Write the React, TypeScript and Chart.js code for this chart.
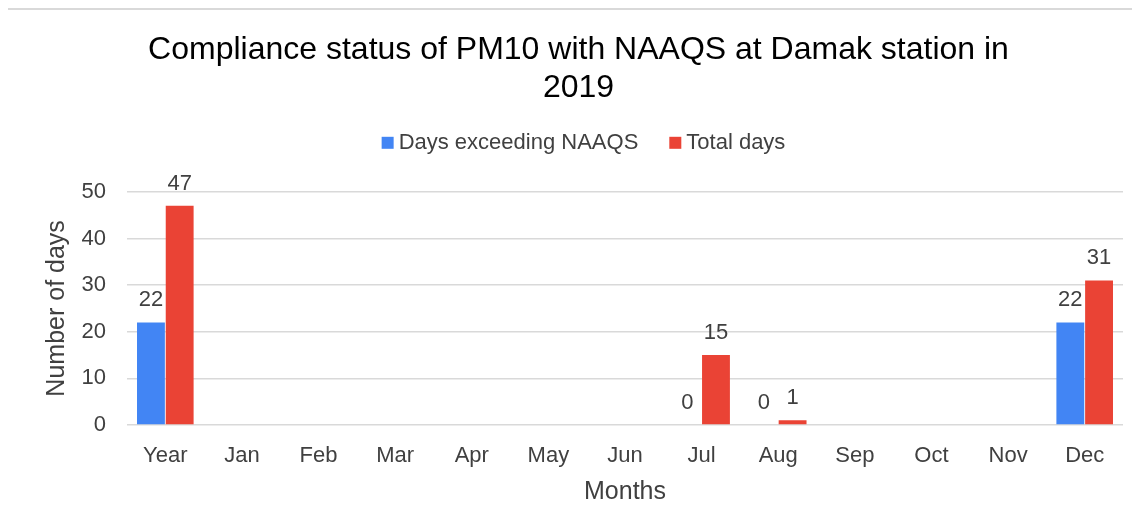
import React, { useEffect, useRef } from "react";
import { Chart, registerables } from "chart.js";

Chart.register(...registerables);

const categories = ["Year", "Jan", "Feb", "Mar", "Apr", "May", "Jun", "Jul", "Aug", "Sep", "Oct", "Nov", "Dec"];
const daysExceeding: (number | null)[] = [22, null, null, null, null, null, null, 0, 0, null, null, null, 22];
const totalDays: (number | null)[] = [47, null, null, null, null, null, null, 15, 1, null, null, null, 31];
const yTicks = [0, 10, 20, 30, 40, 50];
const titleLines = ["Compliance status of PM10 with NAAQS at Damak station in", "2019"];
const seriesColors = ["#4285F4", "#EA4335"];

const FONT = "'Liberation Sans', Arial, sans-serif";
const TEXT = "#404040";
const LEGEND_FONT = 22;
const LEGEND_BOX = 12;
const LEGEND_GAP = 5;
const LEGEND_SHIFT = 8;

const valueLabels = {
  id: "valueLabels",
  afterDatasetsDraw(chart: any) {
    const ctx = chart.ctx;
    ctx.save();
    ctx.font = `22px ${FONT}`;
    ctx.fillStyle = TEXT;
    ctx.textAlign = "center";
    ctx.textBaseline = "alphabetic";
    chart.data.datasets.forEach((ds: any, i: number) => {
      const meta = chart.getDatasetMeta(i);
      meta.data.forEach((el: any, j: number) => {
        const v = ds.data[j];
        if (v === null || v === undefined) return;
        ctx.fillText(String(v), el.x, el.y - 16);
      });
    });
    ctx.restore();
  },
};

// Extra space below the legend, and legend items drawn with a tighter box/text gap
const legendTweaks = {
  id: "legendTweaks",
  beforeInit(chart: any) {
    const legend = chart.legend;
    if (!legend) return;
    const origFit = legend.fit;
    legend.fit = function () {
      origFit.bind(legend)();
      this.height += 27;
    };
  },
  afterDraw(chart: any) {
    const legend = chart.legend;
    if (!legend || !legend.legendHitBoxes) return;
    const ctx = chart.ctx;
    ctx.save();
    ctx.font = `${LEGEND_FONT}px ${FONT}`;
    ctx.textBaseline = "middle";
    ctx.textAlign = "left";
    legend.legendItems.forEach((item: any, i: number) => {
      const hb = legend.legendHitBoxes[i];
      if (!hb) return;
      const cy = hb.top + hb.height / 2 - 1;
      const x = hb.left + LEGEND_SHIFT;
      ctx.fillStyle = seriesColors[item.datasetIndex];
      ctx.fillRect(x, cy - LEGEND_BOX / 2, LEGEND_BOX, LEGEND_BOX);
      ctx.fillStyle = TEXT;
      ctx.fillText(item.text, x + LEGEND_BOX + LEGEND_GAP, cy);
    });
    ctx.restore();
  },
};

export default function App() {
  const ref = useRef<HTMLCanvasElement | null>(null);
  useEffect(() => {
    if (!ref.current) return;
    const chart = new Chart(ref.current, {
      type: "bar",
      data: {
        labels: categories,
        datasets: [
          {
            label: "Days exceeding NAAQS",
            data: daysExceeding,
            backgroundColor: seriesColors[0],
            categoryPercentage: 0.75,
            barPercentage: 0.97,
          },
          {
            label: "Total days",
            data: totalDays,
            backgroundColor: seriesColors[1],
            categoryPercentage: 0.75,
            barPercentage: 0.97,
          },
        ],
      },
      options: {
        animation: false,
        responsive: false,
        maintainAspectRatio: false,
        layout: { padding: { left: 26, right: 25, top: 0, bottom: 20 } },
        plugins: {
          title: {
            display: true,
            text: titleLines,
            color: "#000",
            font: { family: FONT, size: 32, weight: "normal", lineHeight: 1.2 },
            padding: { top: 21, bottom: 0 },
          },
          legend: {
            display: true,
            position: "top",
            labels: {
              color: "rgba(0,0,0,0)",
              font: { family: FONT, size: LEGEND_FONT },
              boxWidth: LEGEND_BOX,
              boxHeight: LEGEND_BOX,
              padding: 25,
              generateLabels(chart: any) {
                return chart.data.datasets.map((ds: any, i: number) => ({
                  text: ds.label,
                  fillStyle: "rgba(0,0,0,0)",
                  strokeStyle: "rgba(0,0,0,0)",
                  lineWidth: 0,
                  fontColor: "rgba(0,0,0,0)",
                  hidden: false,
                  datasetIndex: i,
                }));
              },
            },
          },
          tooltip: { enabled: false },
        },
        scales: {
          x: {
            grid: { display: false, drawTicks: false },
            border: { display: false },
            ticks: { color: TEXT, font: { family: FONT, size: 22 }, padding: 18 },
            title: {
              display: true,
              text: "Months",
              color: TEXT,
              font: { family: FONT, size: 25 },
              padding: { top: 5, bottom: 4 },
            },
            afterFit(axis: any) {
              axis.height = 86;
            },
          },
          y: {
            min: 0,
            max: 50,
            afterBuildTicks(axis: any) {
              axis.ticks = yTicks.map((v) => ({ value: v }));
            },
            grid: { color: "#d9d9d9", lineWidth: 1.5, drawTicks: false },
            border: { display: false },
            ticks: { color: TEXT, font: { family: FONT, size: 22 }, padding: 21 },
            title: {
              display: true,
              text: "Number of days",
              color: TEXT,
              font: { family: FONT, size: 25 },
              padding: { top: 8, bottom: 0 },
            },
            afterFit(axis: any) {
              axis.width = 93;
            },
          },
        },
      },
      plugins: [valueLabels, legendTweaks],
    });
    return () => chart.destroy();
  }, []);

  return (
    <div
      style={{
        marginLeft: -2,
        width: 1150,
        height: 540,
        borderTop: "2px solid #d9d9d9",
        borderLeft: "2px solid #d9d9d9",
        boxSizing: "border-box",
        background: "#fff",
      }}
    >
      <canvas ref={ref} width={1140} height={521} style={{ display: "block" }} />
    </div>
  );
}
